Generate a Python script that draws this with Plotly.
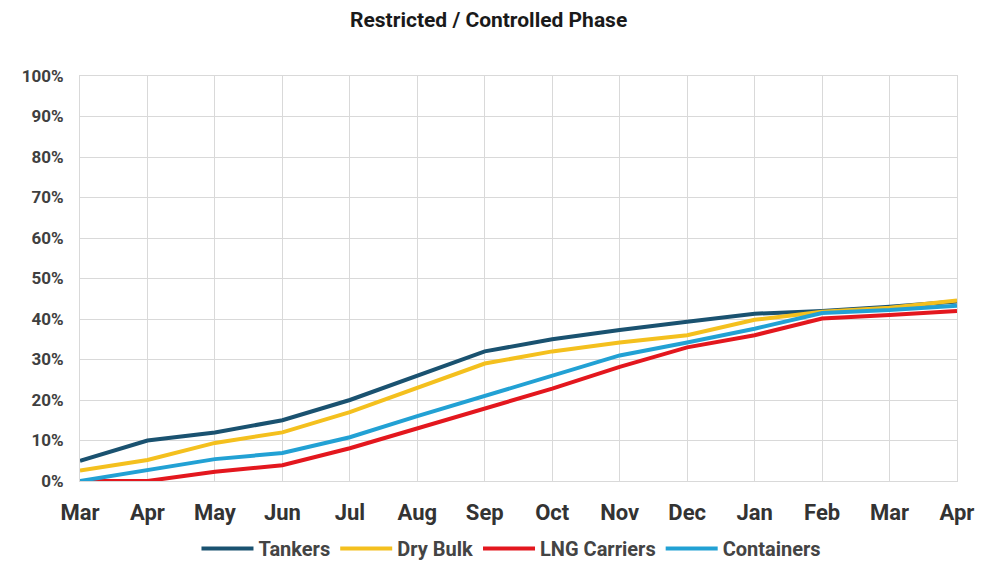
import plotly.graph_objects as go

months = ["Mar", "Apr", "May", "Jun", "Jul", "Aug", "Sep", "Oct", "Nov", "Dec", "Jan", "Feb", "Mar", "Apr"]
tankers = [5, 10, 12, 15, 20, 26, 32, 35, 37.3, 39.3, 41.3, 42, 43, 44.3]
dry_bulk = [2.6, 5.2, 9.4, 12, 17, 23, 29, 32, 34.2, 36, 39.8, 41.8, 42.8, 44.6]
lng_carriers = [0, 0, 2.3, 3.9, 8.1, 13, 18, 22.8, 28.2, 33, 36, 40.1, 41, 42]
containers = [0, 2.6, 5.4, 6.9, 10.8, 16, 21, 26, 31, 34.2, 37.6, 41.5, 42.2, 43.3]
y_ticks = [0, 10, 20, 30, 40, 50, 60, 70, 80, 90, 100]

series = [
    ("Tankers", tankers, "#1A5270"),
    ("Dry Bulk", dry_bulk, "#F4C01E"),
    ("LNG Carriers", lng_carriers, "#E3171E"),
    ("Containers", containers, "#22A1D4"),
]

x = list(range(len(months)))
fig = go.Figure()
for name, vals, color in series:
    fig.add_trace(go.Scatter(
        x=x, y=vals, mode="lines", name=name,
        line=dict(color=color, width=4),
    ))

fig.update_layout(
    width=989, height=566,
    margin=dict(l=72, r=40, t=68, b=93, autoexpand=False),
    paper_bgcolor="white", plot_bgcolor="white",
    font=dict(family="Roboto", color="#333333"),
    title=dict(
        text="<b>Restricted / Controlled Phase</b>",
        x=0.486, xanchor="center", y=0.979, yanchor="middle",
        font=dict(family="Roboto", size=21, color="#1a1a1a"),
    ),
    showlegend=True,
    legend=dict(
        orientation="h", x=0.492, xanchor="center",
        yref="container", y=0.045, yanchor="middle",
        font=dict(family="Roboto", size=20, color="#444444", weight="bold"),
        itemwidth=52,
    ),
    xaxis=dict(
        range=[0, len(months) - 1], automargin=False,
        tickmode="array", tickvals=x, ticktext=[f"<b>{m}</b>" for m in months],
        tickfont=dict(size=22, color="#333333"),
        showgrid=True, gridcolor="#D9D9D9", gridwidth=1,
        showline=True, linecolor="#D9D9D9", mirror=True,
        zeroline=False, ticks="outside", ticklen=12, tickcolor="white",
    ),
    yaxis=dict(
        range=[0, 100], automargin=False,
        tickmode="array", tickvals=y_ticks, ticktext=[f"<b>{v}%</b>" for v in y_ticks],
        tickfont=dict(size=17, color="#404040"),
        showgrid=True, gridcolor="#D9D9D9", gridwidth=1,
        showline=True, linecolor="#D9D9D9", mirror=True,
        zeroline=False, ticks="outside", ticklen=12, tickcolor="white",
    ),
)

fig.write_html("out.html")
